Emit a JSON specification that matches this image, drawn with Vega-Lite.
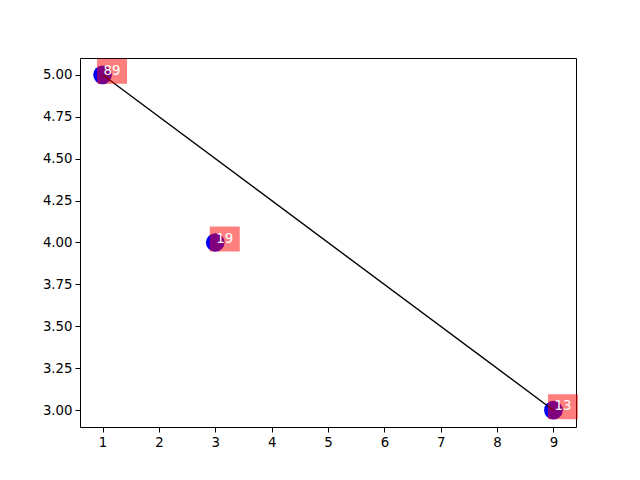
{
  "$schema": "https://vega.github.io/schema/vega-lite/v6.json",
  "width": 496,
  "height": 369,
  "autosize": {"type": "none"},
  "padding": {"left": 80, "top": 58, "right": 64, "bottom": 53},
  "background": "white",
  "datasets": {
    "pts": [
      {"x": 1, "y": 5, "label": "89"},
      {"x": 3, "y": 4, "label": "19"},
      {"x": 9, "y": 3, "label": "13"}
    ],
    "line": [
      {"x": 1, "y": 5},
      {"x": 9, "y": 3}
    ]
  },
  "config": {
    "view": {"stroke": "black", "strokeWidth": 1},
    "axis": {
      "domain": false,
      "grid": false,
      "ticks": true,
      "tickColor": "black",
      "tickSize": 5,
      "tickWidth": 1,
      "labelFont": "DejaVu Sans",
      "labelFontSize": 13.3,
      "labelColor": "black",
      "labelPadding": 3,
      "title": null
    }
  },
  "encoding": {
    "x": {
      "field": "x",
      "type": "quantitative",
      "scale": {"domain": [0.6, 9.4], "nice": false, "zero": false},
      "axis": {"values": [1, 2, 3, 4, 5, 6, 7, 8, 9], "format": "d", "title": null, "labelFlush": false}
    },
    "y": {
      "field": "y",
      "type": "quantitative",
      "scale": {"domain": [2.9, 5.1], "nice": false, "zero": false},
      "axis": {"values": [3, 3.25, 3.5, 3.75, 4, 4.25, 4.5, 4.75, 5], "format": ".2f", "title": null, "labelFlush": false}
    }
  },
  "layer": [
    {
      "data": {"name": "pts"},
      "mark": {"type": "point", "shape": "circle", "filled": true, "fill": "#0000ff", "opacity": 1, "size": 350, "strokeWidth": 0}
    },
    {
      "data": {"name": "line"},
      "mark": {"type": "line", "color": "black", "strokeWidth": 1.4}
    },
    {
      "data": {"name": "pts"},
      "mark": {"type": "point", "shape": "M-1.2,-1H1.2V1H-1.2Z", "filled": true, "fill": "#ff0000", "opacity": 0.5, "size": 625, "strokeWidth": 0, "xOffset": 9.5, "yOffset": -3.5}
    },
    {
      "data": {"name": "pts"},
      "mark": {"type": "text", "color": "white", "font": "DejaVu Sans", "fontSize": 13.3, "align": "left", "baseline": "alphabetic", "dx": 1},
      "encoding": {"text": {"field": "label"}}
    }
  ]
}
